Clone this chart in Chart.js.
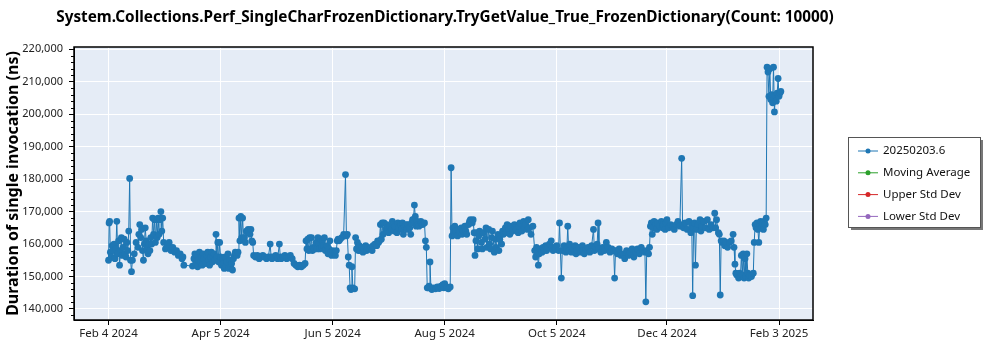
<!DOCTYPE html>
<html>
<head>
<meta charset="utf-8">
<script src="https://cdn.jsdelivr.net/npm/chart.js@4.4.1/dist/chart.umd.min.js"></script>
<style>
  body { margin: 0; background: #fff; }
  canvas { display: block; }
</style>
</head>
<body>
<canvas id="perfChart" width="1000" height="350"></canvas>
<script>
const chartTitle = "System.Collections.Perf_SingleCharFrozenDictionary.TryGetValue_True_FrozenDictionary(Count: 10000)";
const yAxisTitle = "Duration of single invocation (ns)";
const seriesNames = ["20250203.6", "Moving Average", "Upper Std Dev", "Lower Std Dev"];
const seriesColors = ["#1f77b4", "#2ca02c", "#d62728", "#9467bd"];

// x values are days since Feb 4 2024
const tickDays = [0, 61, 122, 183, 244, 304, 365];
const tickLabels = ["Feb 4 2024", "Apr 5 2024", "Jun 5 2024", "Aug 5 2024", "Oct 5 2024", "Dec 4 2024", "Feb 3 2025"];
const yTicks = [140000, 150000, 160000, 170000, 180000, 190000, 200000, 210000, 220000];

const dayOffsets = [
  0,0.3,0.6,1,1.5,2,2.5,3,3.5,4,4.5,5,5.5,6,6.5,7,7.5,8,8.5,9,9.5,10,10.5,11,11.5,12,12.5,13,
  14,15,16,16.5,17,17.5,18,18.5,19,19.5,20,20.5,21,21.5,22,22.5,23,23.5,24,24.5,25,25.5,26,26.5,27,27.5,28,28.5,29,29.5,30,
  31,32,33,34,35,36,37,38,39,40,40.5,41,
  45.7,46.5,47,47.5,48,48.5,49,49.5,50,50.5,51,51.5,52,53,53.5,54,54.5,55,55.5,56,56.5,57,57.5,58,58.5,59,59.5,60,60.5,61,61.5,62,62.5,63,63.5,64,64.5,65,65.5,66,66.5,67,67.5,68,68.5,69,69.5,
  70,70.5,71,71.5,72,72.5,73,73.5,74,74.5,75,75.5,76,76.5,77,77.5,78,78.5,79,
  80,81,82,83,84,85,86,87,88,88.5,89,90,91,92,93,93.5,94,95,96,97,98,99,100,
  101,102,103,104,105,106,107,
  107.5,108,108.5,109,109.5,110,110.5,111,111.5,112,113,113.5,114,114.5,115,115.5,116,116.5,117,117.5,118,119,119.5,120,120.5,121,121.5,122,123,123.5,124,124.5,125,125.5,126,127,128,129,129.5,130,130.5,131,131.5,132,132.5,133,134,
  134.5,135,135.5,136,136.5,137,138,138.5,139,140,140.5,141,142,143,143.5,144,145,146,146.5,147,147.5,
  148,148.5,149,149.5,150,151,151.5,152,152.5,153,154,154.5,155,155.5,156,157,157.5,158,159,159.5,160,160.5,161,162,162.5,163,164,164.5,165,165.5,166,166.5,167,167.5,168,168.5,169,170,170.5,171,172,172.5,173,173.5,174,174.5,175,175.5,
  176,177,178,179,180,181,182,182.5,183,184,185,186,186.5,187,187.5,
  188,188.5,189,190,190.5,191,192,192.5,193,194,194.5,195,196,196.5,197,198,198.5,199,
  199.5,200,200.5,201,201.5,202,203,203.5,204,205,205.5,206,207,207.5,208,208.5,209,210,210.5,211,212,212.5,213,214,214.5,
  215,216,216.5,217,218,218.5,219,220,221,221.5,222,223,223.5,224,225,226,226.5,227,228,228.5,229,230,231,
  232,232.5,233,234,234.5,235,236,236.5,237,238,238.5,239,240,241,241.5,242,243,243.5,244,245,245.5,246.5,247,
  248,249,249.5,250,250.5,251,252,253,254,254.5,255,256,257,258,258.5,259,260,261,262,263,264,264.5,265,266,266.5,267,268,269,270,271,272,273,274,275,275.5,276,277,278,279,280,281,282,283,284,285,286,287,288,289,290,291,292,292.5,293,294,294.5,
  295,295.5,296,296.5,297,298,298.5,299,300,301,301.5,302,303,303.5,304,305,306,307,308,309,310,311,312,312.5,
  313,314,315,316,317,317.5,318,318.5,319,319.5,320,321,322,322.5,323,324,325,326,327,328,329,330,330.5,331,332,332.5,333,333.5,
  334,335,335.5,336,337,338,339,340,340.5,341,341.5,
  342,343,343.5,344,344.5,345,345.5,346,346.5,347,347.5,348,348.5,349,350,351,
  351.5,352,352.5,353,353.5,354,354.5,355,355.5,356,356.5,357,357.5,358,
  358.5,359,359.5,360,360.5,361,361.5,362,362.5,363,363.5,364,364.5,365,365.5,366
];

const durations = [
  155000,166500,167000,157500,156000,159500,158000,160000,155500,158500,167000,157000,161000,153500,158000,162000,156500,159000,161500,157000,156000,160500,158000,164000,180200,155000,151500,155000,
  157000,160500,159000,163000,166000,162000,164500,158000,155000,160000,165000,161000,158500,157000,160000,158000,162000,160000,168000,163000,167500,160500,167500,162000,168000,163000,167500,170000,164000,168000,160500,
  158500,159500,160500,158000,159000,157500,158000,156500,157000,155500,156000,153500,
  153200,155500,157000,154000,156500,153000,155000,157500,154500,156000,153500,157000,155500,154000,156500,157500,155000,153500,156000,157500,154500,156000,157000,155000,163000,156000,160500,154500,160500,156000,153500,155500,154000,152500,156000,153000,154500,157000,152500,155000,153000,154000,152000,155500,156500,157500,157000,
  156500,157500,168000,161000,168500,162000,168000,161500,162000,160500,164000,163500,164500,164000,163000,164500,161000,160500,156500,
  156000,156500,155500,156000,156500,156000,155500,156000,160000,156000,155500,156000,156500,155500,160000,156000,155500,156000,156500,155500,156000,156500,155500,
  154000,153500,153000,153500,153000,153500,154000,
  161000,158500,161500,158000,162000,158500,162000,158000,159000,158500,160500,158500,162000,160000,158500,161500,159000,161000,159500,162000,158000,159500,157000,158500,161000,157500,156500,158000,157000,156500,158000,161000,161500,161000,161500,162000,163000,181400,162500,163000,156000,153500,146500,146000,153000,146500,146200,
  162000,158500,160500,158000,159500,158000,159000,157500,158500,159500,158000,159000,158500,159000,158000,159500,160000,159500,161000,160500,161000,
  166000,161500,166500,163000,166500,164500,166000,165000,163500,165500,164500,167000,166000,164000,165500,163500,166500,165000,166000,164500,166500,163000,165500,166000,164500,166000,165000,163000,166500,167500,167500,172000,168500,165500,167000,166000,165500,167000,166500,166000,166500,161000,159000,146500,146500,147000,154500,146500,
  146000,146500,146200,146800,146300,147000,147500,146500,147800,146500,146200,146800,183500,162500,165000,
  163500,165500,164000,162500,164500,163500,165000,163000,164000,165500,164000,163000,166000,167000,167500,166500,167500,163500,
  156500,161000,163500,158500,162500,164000,160500,158500,163500,161500,165000,159000,164500,160000,158500,162000,164000,157500,161500,159000,163000,158000,161500,160000,164000,
  163000,165000,163500,166000,164500,163000,165500,164000,166000,165000,164500,163500,165500,166500,164000,167000,165000,166000,164500,167500,165000,163000,165500,
  158000,156000,159000,153500,157000,158500,157500,159000,158000,159500,158000,159000,160000,161000,159000,158000,159000,158500,159500,158000,166500,149500,158000,
  159500,157500,158500,165500,158000,160000,157500,158500,159500,157000,158000,159000,157500,159500,158000,157000,158500,159000,157500,159500,164500,158000,159000,160000,166500,158500,157500,159000,158000,160500,159000,157500,158500,158000,149500,158000,157000,158500,156500,157000,155500,158000,156500,157500,158500,156000,157500,158500,157000,159000,158000,157500,142200,158000,157000,159000,
  165500,166500,163000,165000,167000,166000,164500,166500,165500,167000,165000,166000,164500,166500,167500,165000,166000,165500,164500,166000,167000,165500,186400,166000,
  165000,166500,164500,167000,163500,165500,144100,165000,166500,153500,164500,166000,167500,164000,165500,167000,165000,167500,164500,166000,165000,169500,165000,167500,163500,163000,144300,161000,
  160500,161000,159500,160500,159000,160500,161000,163000,159000,153800,151000,
  150500,149500,151000,150000,156500,150500,157000,149500,155500,150000,157000,151000,149500,150500,150000,151000,
  160500,166000,165000,166500,164500,160500,166000,167000,165500,166500,164500,167000,166000,168000,
  214500,213000,205500,214000,204500,206000,203500,214500,200700,205500,204000,206500,211000,205500,206500,207000
];

const FONT = "'Noto Sans', 'Open Sans', sans-serif";

const points = dayOffsets.map((d, i) => ({ x: d, y: durations[i] }));

// plot background + frame + minor y ticks + title
const plotFrame = {
  id: "plotFrame",
  beforeDraw(chart) {
    const a = chart.chartArea, c = chart.ctx;
    c.save();
    c.fillStyle = "#e5ecf6";
    c.fillRect(a.left, a.top, a.right - a.left, a.bottom - a.top);
    c.restore();
  },
  afterDraw(chart) {
    const a = chart.chartArea, c = chart.ctx, y = chart.scales.y;
    c.save();
    c.strokeStyle = "#000";
    c.lineWidth = 1.5;
    c.strokeRect(a.left, a.top, a.right - a.left, a.bottom - a.top);
    c.lineWidth = 1;
    c.beginPath();
    for (let v = 138000; v <= 220000; v += 2000) {
      if (v % 10000 === 0) continue;
      const py = Math.round(y.getPixelForValue(v)) + 0.5;
      c.moveTo(a.left - 3, py);
      c.lineTo(a.left, py);
    }
    c.stroke();
    c.fillStyle = "#000";
    c.font = "bold 15.3px " + FONT;
    c.textAlign = "center";
    c.textBaseline = "middle";
    c.fillText(chartTitle, 445, 18);
    c.restore();
  }
};

// legend box on the right
const boxLegend = {
  id: "boxLegend",
  afterDraw(chart) {
    const c = chart.ctx;
    const x = 848, y = 137, w = 132, h = 90;
    c.save();
    c.fillStyle = "#777";
    c.fillRect(x + 3, y + 3, w, h);
    c.fillStyle = "#fff";
    c.fillRect(x, y, w, h);
    c.strokeStyle = "#555";
    c.lineWidth = 1;
    c.strokeRect(x + 0.5, y + 0.5, w, h);
    c.font = "11.5px " + FONT;
    c.textBaseline = "middle";
    chart.data.datasets.forEach((ds, i) => {
      const ry = y + 14 + i * 21.8;
      c.strokeStyle = ds.borderColor;
      c.lineWidth = 1;
      c.beginPath();
      c.moveTo(x + 10, ry);
      c.lineTo(x + 30, ry);
      c.stroke();
      c.fillStyle = ds.borderColor;
      c.beginPath();
      c.arc(x + 20, ry, 2.5, 0, Math.PI * 2);
      c.fill();
      c.fillStyle = "#111";
      c.fillText(ds.label, x + 35, ry);
    });
    c.restore();
  }
};

const ctx = document.getElementById("perfChart").getContext("2d");

new Chart(ctx, {
  type: "line",
  data: {
    datasets: seriesNames.map((name, i) => ({
      label: name,
      data: i === 0 ? points : [],
      borderColor: seriesColors[i],
      backgroundColor: seriesColors[i],
      borderWidth: 1,
      pointRadius: 3.4,
      pointBorderWidth: 0,
      pointBackgroundColor: seriesColors[i],
      tension: 0
    }))
  },
  options: {
    responsive: false,
    animation: false,
    layout: { padding: { top: 47, right: 187, left: 0, bottom: 0 } },
    plugins: {
      legend: { display: false },
      tooltip: { enabled: false },
      title: { display: false }
    },
    scales: {
      x: {
        type: "linear",
        min: -18.8,
        max: 383.5,
        grid: { color: "#fff", lineWidth: 1, tickColor: "#000", tickLength: 5 },
        border: { color: "#000" },
        ticks: {
          color: "#222",
          font: { family: FONT, size: 11.5 },
          padding: 2,
          maxRotation: 0,
          callback: v => tickLabels[tickDays.indexOf(v)]
        },
        afterBuildTicks: s => { s.ticks = tickDays.map(v => ({ value: v })); },
        afterFit: s => { s.height = 30; }
      },
      y: {
        min: 136600,
        max: 220700,
        grid: { color: "#fff", lineWidth: 1, tickColor: "#000", tickLength: 5 },
        border: { color: "#000" },
        title: {
          display: true,
          text: yAxisTitle,
          color: "#000",
          font: { family: FONT, size: 16, weight: "bold" },
          padding: { top: 4, bottom: 0 }
        },
        ticks: {
          color: "#222",
          font: { family: FONT, size: 11 },
          padding: 6,
          callback: v => v.toLocaleString("en-US")
        },
        afterBuildTicks: s => { s.ticks = yTicks.map(v => ({ value: v })); },
        afterFit: s => { s.width = 74; }
      }
    }
  },
  plugins: [plotFrame, boxLegend]
});
</script>
</body>
</html>
